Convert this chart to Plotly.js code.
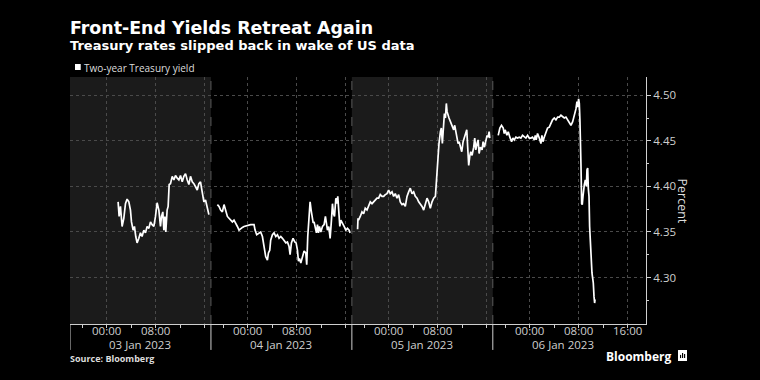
<!DOCTYPE html>
<html><head><meta charset="utf-8">
<script src="https://cdn.plot.ly/plotly-3.0.1.min.js"></script>
<style>html,body{margin:0;padding:0;background:#000;} #chart{width:760px;height:380px;}</style>
</head><body><div id="chart"></div>
<script>
// ---- Data (Two-year Treasury yield, %) ----
const jan3Times = ['2023-01-03 01:51','2023-01-03 02:01','2023-01-03 02:14','2023-01-03 02:30','2023-01-03 02:47','2023-01-03 03:03','2023-01-03 03:19','2023-01-03 03:36','2023-01-03 03:52','2023-01-03 04:02','2023-01-03 04:18','2023-01-03 04:31','2023-01-03 04:44','2023-01-03 04:57','2023-01-03 05:14','2023-01-03 05:30','2023-01-03 05:46','2023-01-03 06:03','2023-01-03 06:19','2023-01-03 06:35','2023-01-03 06:52','2023-01-03 07:08','2023-01-03 07:24','2023-01-03 07:41','2023-01-03 07:57','2023-01-03 08:13','2023-01-03 08:30','2023-01-03 08:46','2023-01-03 08:56','2023-01-03 09:09','2023-01-03 09:19','2023-01-03 09:29','2023-01-03 09:38','2023-01-03 09:51','2023-01-03 10:01','2023-01-03 10:11','2023-01-03 10:24','2023-01-03 10:41','2023-01-03 10:57','2023-01-03 11:13','2023-01-03 11:30','2023-01-03 11:46','2023-01-03 12:02','2023-01-03 12:19','2023-01-03 12:35','2023-01-03 12:51','2023-01-03 13:08','2023-01-03 13:24','2023-01-03 13:40','2023-01-03 13:57','2023-01-03 14:13','2023-01-03 14:29','2023-01-03 14:46','2023-01-03 15:02','2023-01-03 15:18','2023-01-03 15:28','2023-01-03 15:41','2023-01-03 15:51','2023-01-03 16:07','2023-01-03 16:24','2023-01-03 16:40'];
const jan3Yield = [4.383,4.367,4.378,4.356,4.365,4.381,4.386,4.383,4.374,4.361,4.352,4.356,4.345,4.338,4.343,4.349,4.345,4.352,4.349,4.356,4.354,4.361,4.358,4.356,4.367,4.382,4.374,4.356,4.367,4.372,4.352,4.367,4.350,4.374,4.378,4.402,4.403,4.411,4.407,4.412,4.409,4.407,4.412,4.405,4.411,4.414,4.407,4.402,4.411,4.405,4.403,4.400,4.396,4.403,4.405,4.398,4.389,4.383,4.385,4.376,4.369];

const jan4Times = ['2023-01-03 19:03','2023-01-03 19:19','2023-01-03 19:35','2023-01-03 19:52','2023-01-03 20:08','2023-01-03 20:24','2023-01-03 20:41','2023-01-03 20:57','2023-01-03 21:13','2023-01-03 21:30','2023-01-03 21:46','2023-01-03 22:02','2023-01-03 22:19','2023-01-03 22:35','2023-01-03 22:51','2023-01-03 23:08','2023-01-03 23:24','2023-01-03 23:57','2023-01-04 00:29','2023-01-04 01:02','2023-01-04 01:12','2023-01-04 01:28','2023-01-04 01:51','2023-01-04 02:07','2023-01-04 02:24','2023-01-04 02:40','2023-01-04 02:56','2023-01-04 03:13','2023-01-04 03:23','2023-01-04 03:36','2023-01-04 03:45','2023-01-04 04:02','2023-01-04 04:18','2023-01-04 04:35','2023-01-04 04:51','2023-01-04 05:07','2023-01-04 05:24','2023-01-04 05:40','2023-01-04 05:56','2023-01-04 06:13','2023-01-04 06:29','2023-01-04 06:45','2023-01-04 06:55','2023-01-04 07:08','2023-01-04 07:24','2023-01-04 07:41','2023-01-04 07:54','2023-01-04 08:07','2023-01-04 08:17','2023-01-04 08:27','2023-01-04 08:40','2023-01-04 08:56','2023-01-04 09:12','2023-01-04 09:29','2023-01-04 09:38','2023-01-04 09:48','2023-01-04 10:01','2023-01-04 10:11','2023-01-04 10:21','2023-01-04 10:31','2023-01-04 10:41','2023-01-04 10:50','2023-01-04 11:03','2023-01-04 11:13','2023-01-04 11:23','2023-01-04 11:33','2023-01-04 11:43','2023-01-04 11:56','2023-01-04 12:12','2023-01-04 12:28','2023-01-04 12:41','2023-01-04 12:51','2023-01-04 13:01','2023-01-04 13:14','2023-01-04 13:27','2023-01-04 13:40','2023-01-04 13:50','2023-01-04 14:00','2023-01-04 14:10','2023-01-04 14:23','2023-01-04 14:33','2023-01-04 14:42','2023-01-04 14:52','2023-01-04 15:02','2023-01-04 15:12','2023-01-04 15:28','2023-01-04 15:44','2023-01-04 16:01','2023-01-04 16:17','2023-01-04 16:33','2023-01-04 16:43'];
const jan4Yield = [4.380,4.378,4.374,4.372,4.380,4.374,4.367,4.365,4.363,4.361,4.363,4.360,4.356,4.352,4.354,4.355,4.356,4.357,4.358,4.358,4.352,4.347,4.349,4.350,4.345,4.334,4.323,4.319,4.327,4.330,4.341,4.347,4.349,4.345,4.347,4.343,4.345,4.343,4.341,4.338,4.339,4.334,4.325,4.338,4.343,4.339,4.338,4.330,4.318,4.321,4.316,4.323,4.329,4.327,4.314,4.345,4.370,4.383,4.374,4.367,4.360,4.361,4.354,4.349,4.358,4.349,4.356,4.350,4.356,4.358,4.367,4.361,4.352,4.356,4.343,4.363,4.381,4.370,4.367,4.387,4.381,4.389,4.363,4.356,4.363,4.360,4.356,4.352,4.354,4.352,4.349];

const jan5Times = ['2023-01-04 18:56','2023-01-04 19:00','2023-01-04 19:05','2023-01-04 19:22','2023-01-04 19:39','2023-01-04 19:55','2023-01-04 20:11','2023-01-04 20:28','2023-01-04 20:44','2023-01-04 21:00','2023-01-04 21:17','2023-01-04 21:33','2023-01-04 21:49','2023-01-04 22:06','2023-01-04 22:22','2023-01-04 22:38','2023-01-04 22:55','2023-01-04 23:11','2023-01-04 23:27','2023-01-04 23:44','2023-01-05 00:00','2023-01-05 00:16','2023-01-05 00:33','2023-01-05 00:49','2023-01-05 01:05','2023-01-05 01:22','2023-01-05 01:38','2023-01-05 01:54','2023-01-05 02:11','2023-01-05 02:27','2023-01-05 02:43','2023-01-05 03:00','2023-01-05 03:16','2023-01-05 03:32','2023-01-05 03:49','2023-01-05 04:05','2023-01-05 04:21','2023-01-05 04:38','2023-01-05 04:54','2023-01-05 05:10','2023-01-05 05:27','2023-01-05 05:43','2023-01-05 05:59','2023-01-05 06:16','2023-01-05 06:32','2023-01-05 06:48','2023-01-05 07:05','2023-01-05 07:21','2023-01-05 07:38','2023-01-05 07:47','2023-01-05 07:54','2023-01-05 08:04','2023-01-05 08:13','2023-01-05 08:27','2023-01-05 08:36','2023-01-05 08:46','2023-01-05 08:56','2023-01-05 09:06','2023-01-05 09:16','2023-01-05 09:25','2023-01-05 09:32','2023-01-05 09:42','2023-01-05 09:51','2023-01-05 10:05','2023-01-05 10:21','2023-01-05 10:37','2023-01-05 10:47','2023-01-05 11:00','2023-01-05 11:10','2023-01-05 11:20','2023-01-05 11:30','2023-01-05 11:43','2023-01-05 11:56','2023-01-05 12:09','2023-01-05 12:22','2023-01-05 12:35','2023-01-05 12:45','2023-01-05 12:54','2023-01-05 13:04','2023-01-05 13:14','2023-01-05 13:24','2023-01-05 13:37','2023-01-05 13:53','2023-01-05 14:03','2023-01-05 14:13','2023-01-05 14:26','2023-01-05 14:36','2023-01-05 14:46','2023-01-05 14:59','2023-01-05 15:15','2023-01-05 15:25','2023-01-05 15:38','2023-01-05 15:51','2023-01-05 16:04','2023-01-05 16:14','2023-01-05 16:24','2023-01-05 16:30'];
const jan5Yield = [4.353,4.365,4.363,4.367,4.372,4.370,4.376,4.374,4.378,4.383,4.381,4.383,4.385,4.387,4.387,4.391,4.389,4.389,4.391,4.392,4.396,4.392,4.394,4.389,4.392,4.387,4.391,4.383,4.380,4.381,4.378,4.389,4.394,4.398,4.392,4.394,4.389,4.387,4.383,4.381,4.378,4.374,4.380,4.387,4.383,4.376,4.383,4.387,4.389,4.403,4.414,4.436,4.447,4.460,4.464,4.447,4.473,4.480,4.475,4.491,4.482,4.476,4.475,4.471,4.467,4.462,4.467,4.458,4.453,4.447,4.449,4.442,4.438,4.449,4.454,4.460,4.462,4.443,4.423,4.433,4.438,4.434,4.443,4.453,4.440,4.447,4.451,4.436,4.443,4.440,4.449,4.443,4.451,4.456,4.454,4.460,4.453];

const jan6Times = ['2023-01-05 18:53','2023-01-05 19:09','2023-01-05 19:25','2023-01-05 19:42','2023-01-05 19:52','2023-01-05 20:01','2023-01-05 20:18','2023-01-05 20:31','2023-01-05 20:47','2023-01-05 21:04','2023-01-05 21:17','2023-01-05 21:30','2023-01-05 21:46','2023-01-05 22:02','2023-01-05 22:19','2023-01-05 22:35','2023-01-05 22:51','2023-01-05 23:08','2023-01-05 23:24','2023-01-05 23:40','2023-01-05 23:57','2023-01-06 00:13','2023-01-06 00:29','2023-01-06 00:46','2023-01-06 00:56','2023-01-06 01:05','2023-01-06 01:18','2023-01-06 01:35','2023-01-06 01:51','2023-01-06 02:01','2023-01-06 02:11','2023-01-06 02:21','2023-01-06 02:30','2023-01-06 02:43','2023-01-06 02:56','2023-01-06 03:13','2023-01-06 03:29','2023-01-06 03:45','2023-01-06 04:02','2023-01-06 04:18','2023-01-06 04:35','2023-01-06 04:51','2023-01-06 05:07','2023-01-06 05:24','2023-01-06 05:40','2023-01-06 05:56','2023-01-06 06:13','2023-01-06 06:29','2023-01-06 06:45','2023-01-06 07:02','2023-01-06 07:11','2023-01-06 07:24','2023-01-06 07:34','2023-01-06 07:44','2023-01-06 07:51','2023-01-06 08:00','2023-01-06 08:07','2023-01-06 08:13','2023-01-06 08:17','2023-01-06 08:23','2023-01-06 08:30','2023-01-06 08:36','2023-01-06 08:43','2023-01-06 08:49','2023-01-06 08:56','2023-01-06 09:06','2023-01-06 09:16','2023-01-06 09:22','2023-01-06 09:29','2023-01-06 09:35','2023-01-06 09:42','2023-01-06 09:48','2023-01-06 09:55','2023-01-06 10:01','2023-01-06 10:05','2023-01-06 10:11','2023-01-06 10:18','2023-01-06 10:24','2023-01-06 10:31','2023-01-06 10:37','2023-01-06 10:41'];
const jan6Yield = [4.456,4.464,4.467,4.464,4.458,4.462,4.456,4.460,4.454,4.449,4.453,4.451,4.454,4.453,4.454,4.453,4.456,4.454,4.453,4.456,4.453,4.453,4.454,4.451,4.456,4.451,4.458,4.453,4.447,4.456,4.449,4.453,4.456,4.458,4.464,4.465,4.469,4.473,4.475,4.473,4.476,4.476,4.478,4.476,4.475,4.476,4.473,4.471,4.467,4.471,4.475,4.480,4.485,4.493,4.487,4.496,4.491,4.473,4.433,4.425,4.381,4.380,4.389,4.398,4.402,4.407,4.400,4.418,4.420,4.398,4.389,4.356,4.334,4.323,4.308,4.305,4.299,4.294,4.279,4.272,4.276];

// Axis ticks and labels
const xTickVals = ['2023-01-03 00:00','2023-01-03 08:00','2023-01-03 16:00','2023-01-04 00:00','2023-01-04 08:00','2023-01-04 16:00','2023-01-05 00:00','2023-01-05 08:00','2023-01-05 16:00','2023-01-06 00:00','2023-01-06 08:00','2023-01-06 16:00'];
const xTickText = ['00:00','08:00','','00:00','08:00','','00:00','08:00','','00:00','08:00','16:00'];
const xMinorVals = ['2023-01-02 20:00','2023-01-03 04:00','2023-01-03 12:00','2023-01-03 20:00','2023-01-04 04:00','2023-01-04 12:00','2023-01-04 20:00','2023-01-05 04:00','2023-01-05 12:00','2023-01-05 20:00','2023-01-06 04:00','2023-01-06 12:00'];
const dayLabels = ['03 Jan 2023','04 Jan 2023','05 Jan 2023','06 Jan 2023'];
const dayCenters = ['2023-01-03 05:30','2023-01-04 05:30','2023-01-05 05:30','2023-01-06 05:30'];
const sessionStarts = ['2023-01-02 18:00','2023-01-03 18:00','2023-01-04 18:00','2023-01-05 18:00'];
const yTickVals = [4.30,4.35,4.40,4.45,4.50];
const yMinorVals = [4.275,4.325,4.375,4.425,4.475];

// Build one series with gaps between sessions
const xs = [], ys = [];
[[jan3Times,jan3Yield],[jan4Times,jan4Yield],[jan5Times,jan5Yield],[jan6Times,jan6Yield]].forEach((d,i)=>{
  if(i>0){ xs.push(null); ys.push(null); }
  xs.push(...d[0]); ys.push(...d[1]);
});

const FONT = '"Open Sans", "DejaVu Sans", sans-serif';
const HEADFONT = '"DejaVu Sans", "Open Sans", sans-serif';
const TICKC = '#cfcfcf';

const shapes = [];
// shaded sessions (03 Jan and 05 Jan)
[[0,1],[2,3]].forEach(([a,b])=>{
  shapes.push({type:'rect',xref:'x',yref:'paper',x0:sessionStarts[a],x1:sessionStarts[b],y0:0,y1:1,fillcolor:'#1b1b1b',line:{width:0},layer:'below'});
});
// session separators
sessionStarts.forEach((s,i)=>{
  if(i>0) shapes.push({type:'line',xref:'x',yref:'paper',x0:s,x1:s,y0:0,y1:1,line:{color:'#5a5a5a',width:1,dash:'dash'},layer:'below'});
  shapes.push({type:'line',xref:'x',yref:'paper',x0:s,x1:s,y0:-0.105,y1:0,line:{color:TICKC,width:1}});
});
// legend square
shapes.push({type:'rect',xref:'paper',yref:'paper',x0:0.0087,x1:0.0186,y0:1.0283,y1:1.0526,fillcolor:'#ffffff',line:{width:0}});
// Bloomberg logo mark
shapes.push({type:'rect',xref:'paper',yref:'paper',x0:1.0556,x1:1.0712,y0:-0.1498,y1:-0.1053,fillcolor:'#ffffff',line:{width:0}});
[[1.0590,1.0610,-0.1380,-0.1250],[1.0625,1.0645,-0.1380,-0.1170],[1.0660,1.0680,-0.1380,-0.1210]].forEach(r=>{
  shapes.push({type:'rect',xref:'paper',yref:'paper',x0:r[0],x1:r[1],y0:r[2],y1:r[3],fillcolor:'#000000',line:{width:0}});
});

const annotations = [
  {xref:'paper',yref:'paper',x:-0.004,y:1.200,xanchor:'left',yanchor:'middle',showarrow:false,text:'<b>Front-End Yields Retreat Again</b>',font:{family:HEADFONT,size:17.4,color:'#ffffff'}},
  {xref:'paper',yref:'paper',x:-0.004,y:1.126,xanchor:'left',yanchor:'middle',showarrow:false,text:'<b>Treasury rates slipped back in wake of US data</b>',font:{family:HEADFONT,size:13,color:'#ffffff'}},
  {xref:'paper',yref:'paper',x:0.0205,y:1.037,xanchor:'left',yanchor:'middle',showarrow:false,text:'Two-year Treasury yield',font:{family:FONT,size:10,color:'#dddddd'}},
  {xref:'paper',yref:'paper',x:1.0625,y:0.5,xanchor:'center',yanchor:'middle',showarrow:false,textangle:90,text:'Percent',font:{family:FONT,size:12.5,color:'#dddddd'}},
  {xref:'paper',yref:'paper',x:-0.004,y:-0.138,xanchor:'left',yanchor:'middle',showarrow:false,text:'<b>Source: Bloomberg</b>',font:{family:FONT,size:9,color:'#dddddd'}},
  {xref:'paper',yref:'paper',x:1.048,y:-0.130,xanchor:'right',yanchor:'middle',showarrow:false,text:'<b>Bloomberg</b>',font:{family:FONT,size:12,color:'#ffffff'}}
];
dayLabels.forEach((t,i)=>{
  annotations.push({xref:'x',yref:'paper',x:dayCenters[i],y:-0.081,xanchor:'center',yanchor:'middle',showarrow:false,text:t,font:{family:FONT,size:11.5,color:TICKC}});
});
xTickVals.forEach((v,i)=>{
  if(xTickText[i]) annotations.push({xref:'x',yref:'paper',x:v,y:-0.027,xanchor:'center',yanchor:'middle',showarrow:false,text:xTickText[i],font:{family:FONT,size:11.5,color:TICKC}});
});

const trace = {x:xs,y:ys,type:'scatter',mode:'lines',connectgaps:false,line:{color:'#ffffff',width:1.7},hoverinfo:'skip',name:'Two-year Treasury yield'};

const layout = {
  width:760,height:380,
  paper_bgcolor:'#000000',plot_bgcolor:'#000000',
  margin:{l:70,r:114,t:77,b:56},
  showlegend:false,
  xaxis:{type:'date',range:['2023-01-02 18:00','2023-01-06 20:00'],
    rangebreaks:[{pattern:'hour',bounds:[17,18]}],
    tickmode:'array',tickvals:xTickVals,showticklabels:false,
    ticks:'outside',ticklen:3,tickcolor:TICKC,tickwidth:1,
    showgrid:true,gridcolor:'#4a4a4a',griddash:'dot',gridwidth:1,
    showline:true,linecolor:TICKC,linewidth:1,zeroline:false,
    minor:{tickmode:'array',tickvals:xMinorVals,ticks:'outside',ticklen:3,tickcolor:TICKC,showgrid:false}},
  yaxis:{side:'right',range:[4.249,4.52],
    tickmode:'array',tickvals:yTickVals,tickformat:'.2f',
    ticks:'outside',ticklen:4,tickcolor:TICKC,
    tickfont:{family:FONT,size:11.5,color:TICKC},
    showgrid:true,gridcolor:'#4a4a4a',griddash:'dot',gridwidth:1,
    showline:true,linecolor:TICKC,linewidth:1,zeroline:false,
    minor:{tickmode:'array',tickvals:yMinorVals,ticks:'outside',ticklen:2,tickcolor:TICKC,showgrid:false}},
  shapes:shapes,annotations:annotations
};
Plotly.newPlot('chart',[trace],layout,{displayModeBar:false,staticPlot:true});
</script></body></html>
